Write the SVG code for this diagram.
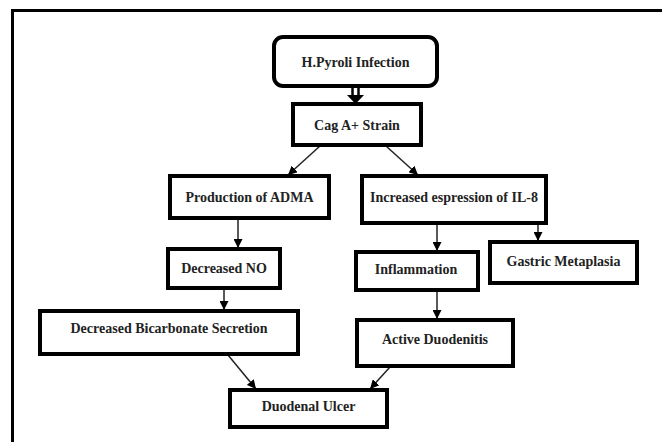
<svg xmlns="http://www.w3.org/2000/svg" width="662" height="442" viewBox="0 0 662 442">
<defs>
<marker id="ah" viewBox="0 0 10 10" refX="10" refY="5" markerWidth="9" markerHeight="9" markerUnits="userSpaceOnUse" orient="auto">
<path d="M0,0 L10,5 L0,10 Z" fill="#000"/>
</marker>
</defs>
<style>
.box{fill:#fff;stroke:#000;stroke-width:4}
text{font-family:'Liberation Serif','Times New Roman',serif;font-size:14px;font-weight:bold;fill:#222;text-anchor:middle}
.c{stroke:#222;stroke-width:1.5;fill:none;marker-end:url(#ah)}
</style>
<rect width="662" height="442" fill="#fff"/>
<path d="M12.5,442 V10.5 H662" fill="none" stroke="#000" stroke-width="3"/>
<g id="connectors">
<line x1="352.5" y1="88" x2="352.5" y2="96" stroke="#000" stroke-width="2.5"/>
<line x1="358.5" y1="88" x2="358.5" y2="96" stroke="#000" stroke-width="2.5"/>
<path d="M347,95 L364,95 L355.5,104 Z" fill="#000"/>
<line class="c" x1="320" y1="146" x2="288" y2="175"/>
<line class="c" x1="386" y1="146" x2="418" y2="175"/>
<line class="c" x1="238" y1="218" x2="238" y2="248"/>
<line class="c" x1="437" y1="223" x2="437" y2="251"/>
<line class="c" x1="538" y1="223" x2="538" y2="241"/>
<line class="c" x1="224" y1="288" x2="224" y2="310"/>
<line class="c" x1="437" y1="290" x2="437" y2="319"/>
<line class="c" x1="228" y1="355" x2="256" y2="389"/>
<line class="c" x1="390" y1="367" x2="370" y2="389"/>
</g>
<g id="n1"><rect class="box" x="274" y="37" width="163" height="49" rx="9"/><text x="355.5" y="67" font-family="Liberation Serif">H.Pyroli Infection</text></g>
<g id="n2"><rect class="box" x="293" y="104" width="128" height="41"/><text x="357" y="130" font-family="Liberation Serif">Cag A+ Strain</text></g>
<g id="n3"><rect class="box" x="170" y="176" width="159" height="42"/><text x="249.5" y="202" font-family="Liberation Serif">Production of ADMA</text></g>
<g id="n4"><rect class="box" x="362" y="176" width="184" height="47"/><text x="454" y="202" font-family="Liberation Serif">Increased espression of IL-8</text></g>
<g id="n5"><rect class="box" x="168" y="249" width="112" height="39"/><text x="224" y="273" font-family="Liberation Serif">Decreased NO</text></g>
<g id="n6"><rect class="box" x="356" y="252" width="122" height="38"/><text x="416" y="274" font-family="Liberation Serif">Inflammation</text></g>
<g id="n7"><rect class="box" x="490" y="242" width="147" height="41"/><text x="563.5" y="266" font-family="Liberation Serif">Gastric Metaplasia</text></g>
<g id="n8"><rect class="box" x="40" y="311" width="258" height="43"/><text x="169" y="333" font-family="Liberation Serif">Decreased Bicarbonate Secretion</text></g>
<g id="n9"><rect class="box" x="357" y="320" width="156" height="46"/><text x="435" y="344" font-family="Liberation Serif">Active Duodenitis</text></g>
<g id="n10"><rect class="box" x="230" y="390" width="157" height="37"/><text x="308.5" y="411" font-family="Liberation Serif">Duodenal Ulcer</text></g>
</svg>
